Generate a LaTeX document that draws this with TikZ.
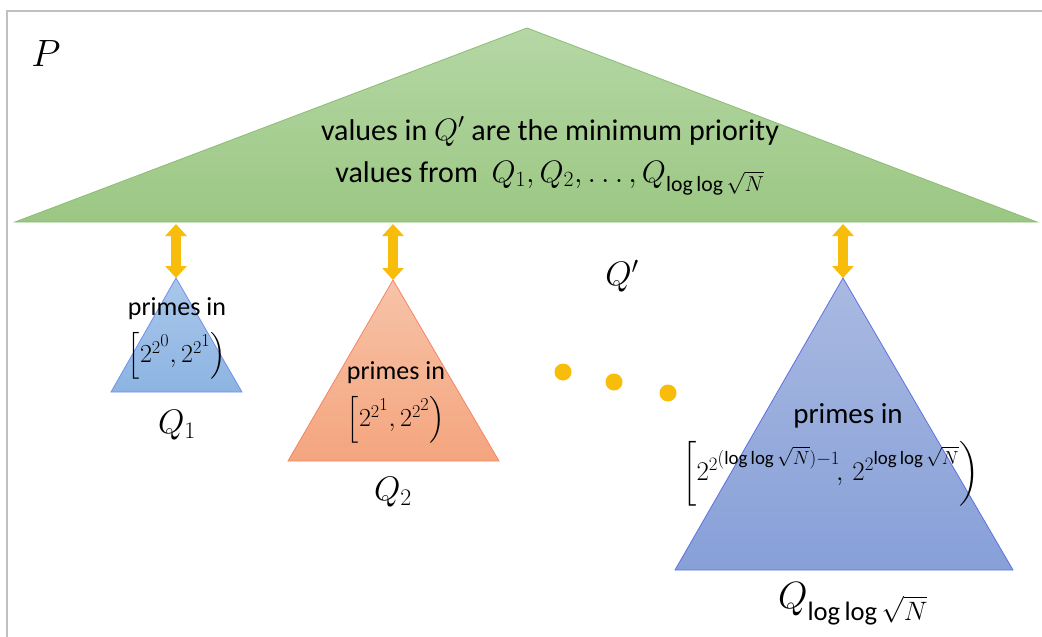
\RequirePackage{fix-cm}
\documentclass[tikz,border=0pt]{standalone}
\usepackage{amsmath,amssymb}
\usepackage{fontspec}
\setmainfont{Carlito}
\usetikzlibrary{arrows.meta,positioning}
\definecolor{pTop}{HTML}{B5D7A5}
\definecolor{pBot}{HTML}{9BC783}
\definecolor{pEdge}{HTML}{8CBC73}
\definecolor{qaTop}{HTML}{A9C7EB}
\definecolor{qaBot}{HTML}{8DB4E2}
\definecolor{qbTop}{HTML}{F7C3A8}
\definecolor{qbBot}{HTML}{F4A57E}
\definecolor{qcTop}{HTML}{A9B9E1}
\definecolor{qcBot}{HTML}{87A0D8}
\definecolor{linkYel}{HTML}{F8BC0A}
\definecolor{frameGray}{HTML}{C0C0C0}
\newcommand{\bigmath}[1]{{\fontsize{31}{42}\selectfont$#1$}}

\begin{document}
\begin{tikzpicture}[x=1pt, y=-1pt,
  tri/.style={line width=0.8pt},
  txt/.style={font=\fontsize{26}{30}\selectfont, align=center, inner sep=0pt},
  qlab/.style={font=\fontsize{34}{38}\selectfont, inner sep=0pt},
  link/.style={line width=10pt, draw=linkYel,
               {Triangle[width=21pt,length=12pt]}-{Triangle[width=21pt,length=12pt]}},
  dotnode/.style={circle, fill=linkYel, minimum size=17pt, inner sep=0pt}
]
\useasboundingbox (0,0) rectangle (1042,637);
% frame
\draw[frameGray, line width=1.5pt] (7,637) -- (7,11) -- (1042,11);
% P tree
\coordinate (ptop) at (527,28);
\coordinate (pl) at (15,222);
\coordinate (pr) at (1037,222);
\shade[tri, draw=pEdge, top color=pTop, bottom color=pBot] (ptop) -- (pl) -- (pr) -- cycle;
\node[qlab, font=\fontsize{38}{42}\selectfont] (plab) at (46,54) {$P$};
\node[txt, font=\fontsize{30}{42}\selectfont] (ptxt) at (550,156)
  {values in \bigmath{Q'} are the minimum priority\\
   values from~ \bigmath{Q_1,Q_2,\dots,Q_{\log\log\sqrt{N}}}};
\node[qlab] (qprime) at (622,276) {$Q'$};
% Q_1
\coordinate (qatop) at (176,278);
\shade[tri, draw=qaBot!80!blue, top color=qaTop, bottom color=qaBot]
  (qatop) -- (111,392) -- (242,392) -- cycle;
\node[txt] (qatxt) at (177,309) {primes in};
\node[txt] (qaint) at (177,356) {$\Bigl[2^{2^{\scriptstyle 0}},2^{2^{\scriptstyle 1}}\Bigr)$};
\node[qlab] (qalab) at (177,425) {$Q_1$};
% Q_2
\coordinate (qbtop) at (393,280);
\shade[tri, draw=qbBot!80!red, top color=qbTop, bottom color=qbBot]
  (qbtop) -- (288,461) -- (499,461) -- cycle;
\node[txt] (qbtxt) at (396,373) {primes in};
\node[txt] (qbint) at (396,420) {$\Bigl[2^{2^{\scriptstyle 1}},2^{2^{\scriptstyle 2}}\Bigr)$};
\node[qlab] (qblab) at (393,492) {$Q_2$};
% Q_loglog
\coordinate (qctop) at (843,278);
\shade[tri, draw=qcBot!70!blue, top color=qcTop, bottom color=qcBot]
  (qctop) -- (675,570) -- (1013,570) -- cycle;
\node[txt, font=\fontsize{29}{32}\selectfont] (qctxt) at (848,416) {primes in};
\node[txt, font=\fontsize{27}{30}\selectfont] (qcint) at (831,474)
  {$\left[2^{2^{\scriptstyle(\log\log\sqrt{N})-1}}\!,\,2^{2^{\scriptstyle\log\log\sqrt{N}}}\right)$};
\node[qlab, font=\fontsize{38}{42}\selectfont] (qclab) at (853,604) {$Q_{\log\log\sqrt{N}}$};
% links
\coordinate (la) at (176,224);
\coordinate (lb) at (393,224);
\coordinate (lc) at (843,224);
\draw[link] (la) -- (qatop);
\draw[link] (lb) -- (qbtop);
\draw[link] (lc) -- (qctop);
% dots
\node[dotnode] (d1) at (563,372) {};
\node[dotnode] (d2) at (614,382) {};
\node[dotnode] (d3) at (668,393) {};
\end{tikzpicture}
\end{document}
